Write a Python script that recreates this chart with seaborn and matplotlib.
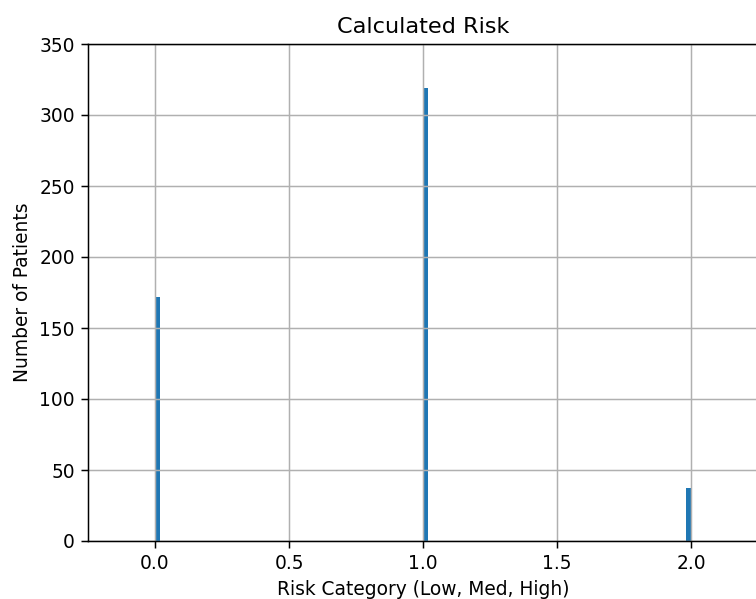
import numpy as np
import matplotlib
matplotlib.use("Agg")
import matplotlib.pyplot as plt
import seaborn as sns

# risk category (0 = Low, 1 = Med, 2 = High) and number of patients in each
risk_category = [0, 1, 2]
patient_counts = [172, 319, 37]

DPI = 134
fig = plt.figure(figsize=(756 / DPI, 599 / DPI), dpi=DPI)
ax = fig.add_axes([88 / 756, 1 - 541 / 599, (758 - 88) / 756, (541 - 44) / 599])

sns.histplot(
    x=risk_category,
    weights=patient_counts,
    bins=100,
    binrange=(0, 2),
    color="#1f77b4",
    alpha=1,
    linewidth=0,
    ax=ax,
)

ax.set_xlim(-0.25, 2.25)
ax.set_ylim(0, 350)
ax.set_xticks([0.0, 0.5, 1.0, 1.5, 2.0])
ax.grid(True, color="#b0b0b0", linewidth=0.8)
ax.set_title("Calculated Risk", fontsize=12)
ax.set_xlabel("Risk Category (Low, Med, High)")
ax.set_ylabel("Number of Patients")

fig.savefig("out.png", dpi=DPI)
